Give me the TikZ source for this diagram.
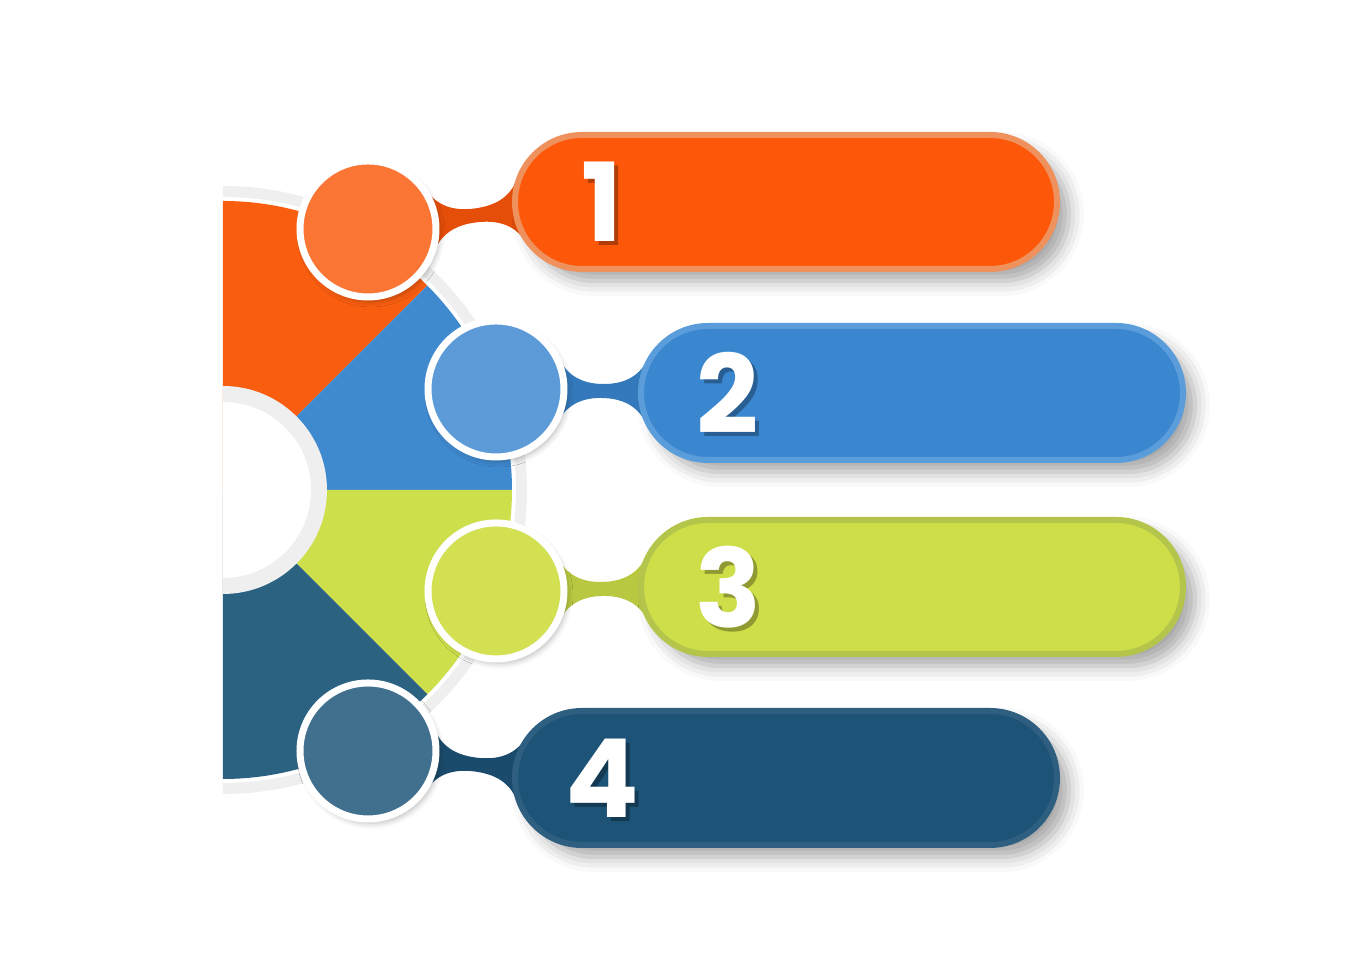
\documentclass[tikz,border=0pt]{standalone}
\usepackage{fontspec}
\usepackage{xcolor}
\usetikzlibrary{shapes, shapes.misc, shadows, shadows.blur, calc, positioning}
\newfontfamily\numfont{Poppins}
\pgfdeclarelayer{back}
\pgfsetlayers{back,main}
\definecolor{wheelorange}{HTML}{F95E10}
\definecolor{wheelblue}{HTML}{3F89CF}
\definecolor{wheelgreen}{HTML}{CEDF4C}
\definecolor{wheelteal}{HTML}{2B6282}
\definecolor{wheelrim}{HTML}{EFEFEF}
\definecolor{dotorange}{HTML}{FB7535}
\definecolor{dotblue}{HTML}{5C9BD7}
\definecolor{dotgreen}{HTML}{D3E051}
\definecolor{dotteal}{HTML}{41708F}
\definecolor{barorange}{HTML}{FD570A}
\definecolor{barblue}{HTML}{3A87D0}
\definecolor{bargreen}{HTML}{CEDE48}
\definecolor{barteal}{HTML}{1E5378}
\definecolor{edgeorange}{HTML}{EE915C}
\definecolor{edgeblue}{HTML}{5B9DDA}
\definecolor{edgegreen}{HTML}{B5C54B}
\definecolor{edgeteal}{HTML}{2E5F80}

\begin{document}
\begin{tikzpicture}
        \useasboundingbox (-2.23,-4.90) rectangle (11.39,4.90);

        \coordinate (O) at (0,0);

        % half wheel
        \fill [wheelrim] (O) ++(0,3.04) arc (90:-90:3.04) -- cycle;
        \fill [white] (O) ++(0,2.93) arc (90:-90:2.93) -- cycle;
        \foreach \col [count=\i] in {wheelorange, wheelblue, wheelgreen, wheelteal}{
            \fill [\col] (O) -- ({135-45*\i}:2.89) arc ({135-45*\i}:{90-45*\i}:2.89) -- cycle;
        }
        \fill [wheelrim] (O) ++(0,1.04) arc (90:-90:1.04) -- cycle;
        \fill [white] (O) ++(0,0.88) arc (90:-90:0.88) -- cycle;

        \tikzstyle{dot} = [circle, draw=white, line width=0.07cm, minimum size=1.36cm, inner sep=0pt,
            blur shadow={shadow xshift=0.03cm, shadow yshift=-0.04cm, shadow blur radius=0.06cm, shadow opacity=30}];
        \foreach \k/\x/\y/\col in {1/1.45/2.61/dotorange, 2/2.73/1.01/dotblue,
                                   3/2.73/-1.01/dotgreen, 4/1.45/-2.61/dotteal}{
            \node [dot, fill=\col] (c\k) at (\x, \y) { };
        }

        \tikzstyle{bar} = [rounded rectangle, line width=0.06cm, minimum height=1.34cm, minimum width=5.42cm, inner sep=0pt,
            blur shadow={shadow xshift=0.12cm, shadow yshift=-0.12cm, shadow blur radius=0.15cm, shadow opacity=35}];
        \foreach \k/\x/\y/\col/\edge in {1/5.63/2.88/barorange/edgeorange, 2/6.89/0.97/barblue/edgeblue,
                                         3/6.89/-0.97/bargreen/edgegreen, 4/5.63/-2.88/barteal/edgeteal}{
            \node [bar, fill=\col, draw=\edge] (b\k) at (\x, \y) { };
        }

        \tikzstyle{num} = [font=\numfont\bfseries\fontsize{31}{31}\selectfont, text=white, inner sep=0pt];
        \tikzstyle{numshade} = [num, text=black, opacity=0.3];
        \foreach \k in {1, ..., 4}{
            \node [numshade] (s\k) at ($(b\k.west) + (0.94, -0.04)$) {\k};
            \node [num] (n\k) at ($(b\k.west) + (0.90, 0)$) {\k};
        }

        % necks between dots and bars
        \begin{pgfonlayer}{back}
        \foreach \k/\col in {1/barorange, 2/barblue, 3/bargreen, 4/barteal}{
            \coordinate (B\k) at ($(b\k.west) + (0.70, 0)$);
            \coordinate (M\k) at ($(c\k.center)!0.5!(B\k)$);
            \fill [\col!90!black] let \p1 = (c\k.center), \p2 = (B\k),
                \n1 = {atan2(\y2-\y1, \x2-\x1)}, \n2 = {\n1-63}, \n3 = {\n1+180},
                \n4 = {\n1+243}, \n5 = {\n1+117}, \n6 = {\n1+63} in
                ($(c\k.center) + ({\n1+27}:0.70)$) to [out=\n2, in=\n3] ($(M\k) + ({\n1+90}:0.07)$)
                to [out=\n1, in=\n4] ($(B\k) + ({\n1+153}:0.69)$)
                -- ($(B\k) + ({\n1+207}:0.69)$)
                to [out=\n5, in=\n1] ($(M\k) + ({\n1-90}:0.07)$)
                to [out=\n3, in=\n6] ($(c\k.center) + ({\n1-27}:0.70)$) -- cycle;
        }
        \end{pgfonlayer}
\end{tikzpicture}
\end{document}
